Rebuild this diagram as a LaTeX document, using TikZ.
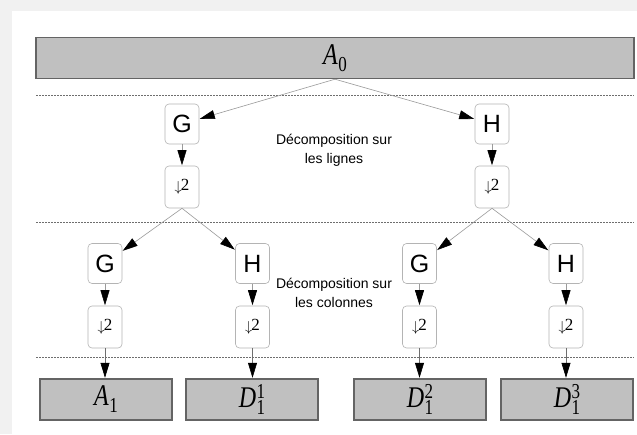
\documentclass[tikz,border=0pt]{standalone}
\usepackage{fontspec}
\usepackage{graphicx}
\setmainfont{Liberation Sans}
\newfontfamily\timesfont{Liberation Serif}
\usetikzlibrary{arrows.meta}
\definecolor{bandgray}{HTML}{C0C0C0}
\definecolor{bandedge}{HTML}{646464}
\definecolor{filteredge}{HTML}{B4B4B4}
\definecolor{linkgray}{HTML}{9A9A9A}
\definecolor{sepgray}{HTML}{6E6E6E}
\definecolor{pagegray}{HTML}{F1F1F1}
\newcommand{\bandlabel}[3]{\scalebox{1}[1.25]{\timesfont\fontsize{24}{24}\selectfont\textit{#1}\kern0.5pt\fontsize{17}{17}\selectfont\rlap{\raisebox{7.5pt}{#3}}\raisebox{-5.5pt}{#2}}}
\newcommand{\downtwo}{\raisebox{-1pt}{\fontsize{14.4}{14.4}\selectfont$\downarrow$}\kern-1pt{\timesfont\fontsize{17}{17}\selectfont 2}}
\tikzset{
  band/.style={draw=bandedge, line width=1.4pt, fill=bandgray, minimum height=41pt, inner sep=0pt},
  filterbox/.style={draw=filteredge, line width=0.6pt, fill=white, rounded corners=4pt,
                    minimum width=34pt, minimum height=40pt, inner sep=0pt, font=\fontsize{25}{25}\selectfont},
  downbox/.style={filterbox, minimum height=42pt, font=\normalsize},
  link/.style={draw=linkgray, line width=0.6pt, -{Triangle[length=15pt,width=9pt,black]}, shorten >=0.5pt},
  level/.style={draw=sepgray, line width=0.9pt, dash pattern=on 2pt off 1pt},
  note/.style={align=center, font=\fontsize{14}{19}\selectfont}
}
\begin{document}
\begin{tikzpicture}[x=1pt, y=-1pt]
  \useasboundingbox (0,0) rectangle (637,434);
  \fill[pagegray] (0,0) rectangle (637,434);
  \fill[white] (12,11) rectangle (637,434);

  \node[band, minimum width=598pt] (A0) at (335,58) {\bandlabel{A}{0}{}};
  \draw[level] (36,95) -- (634,95);
  \draw[level] (36,222) -- (634,222);
  \draw[level] (36,357) -- (634,357);

  % first level: rows
  \node[filterbox] (G1) at (182,124) {G};
  \node[filterbox] (H1) at (492,124) {H};
  \node[downbox] (dG1) at (182,187) {\downtwo};
  \node[downbox] (dH1) at (492,187) {\downtwo};
  \node[note] (rows) at (334,150) {Décomposition sur\\les lignes};

  % second level: columns
  \foreach \name/\lbl/\x in {G2/G/105, H2/H/252.5, G3/G/419.5, H3/H/566}{
    \node[filterbox] (\name) at (\x,263.5) {\lbl};
    \node[downbox] (d\name) at (\x,327) {\downtwo};
  }
  \node[note] (cols) at (334,293) {Décomposition sur\\les colonnes};

  \node[band, minimum width=132pt] (A1) at (106,399.5) {\bandlabel{A}{1}{}};
  \node[band, minimum width=132pt] (D11) at (252,399.5) {\bandlabel{D}{1}{1}};
  \node[band, minimum width=132pt] (D12) at (420,399.5) {\bandlabel{D}{1}{2}};
  \node[band, minimum width=132pt] (D13) at (567,399.5) {\bandlabel{D}{1}{3}};

  \draw[link] (A0.south) -- (G1);
  \draw[link] (A0.south) -- (H1);
  \draw[link] (G1) -- (dG1);
  \draw[link] (H1) -- (dH1);
  \draw[link] (dG1.south) -- (G2);
  \draw[link] (dG1.south) -- (H2);
  \draw[link] (dH1.south) -- (G3);
  \draw[link] (dH1.south) -- (H3);
  \foreach \name/\out in {G2/A1, H2/D11, G3/D12, H3/D13}{
    \draw[link] (\name) -- (d\name);
    \draw[link, draw=sepgray] (d\name) -- (d\name |- \out.north);
  }
\end{tikzpicture}
\end{document}
